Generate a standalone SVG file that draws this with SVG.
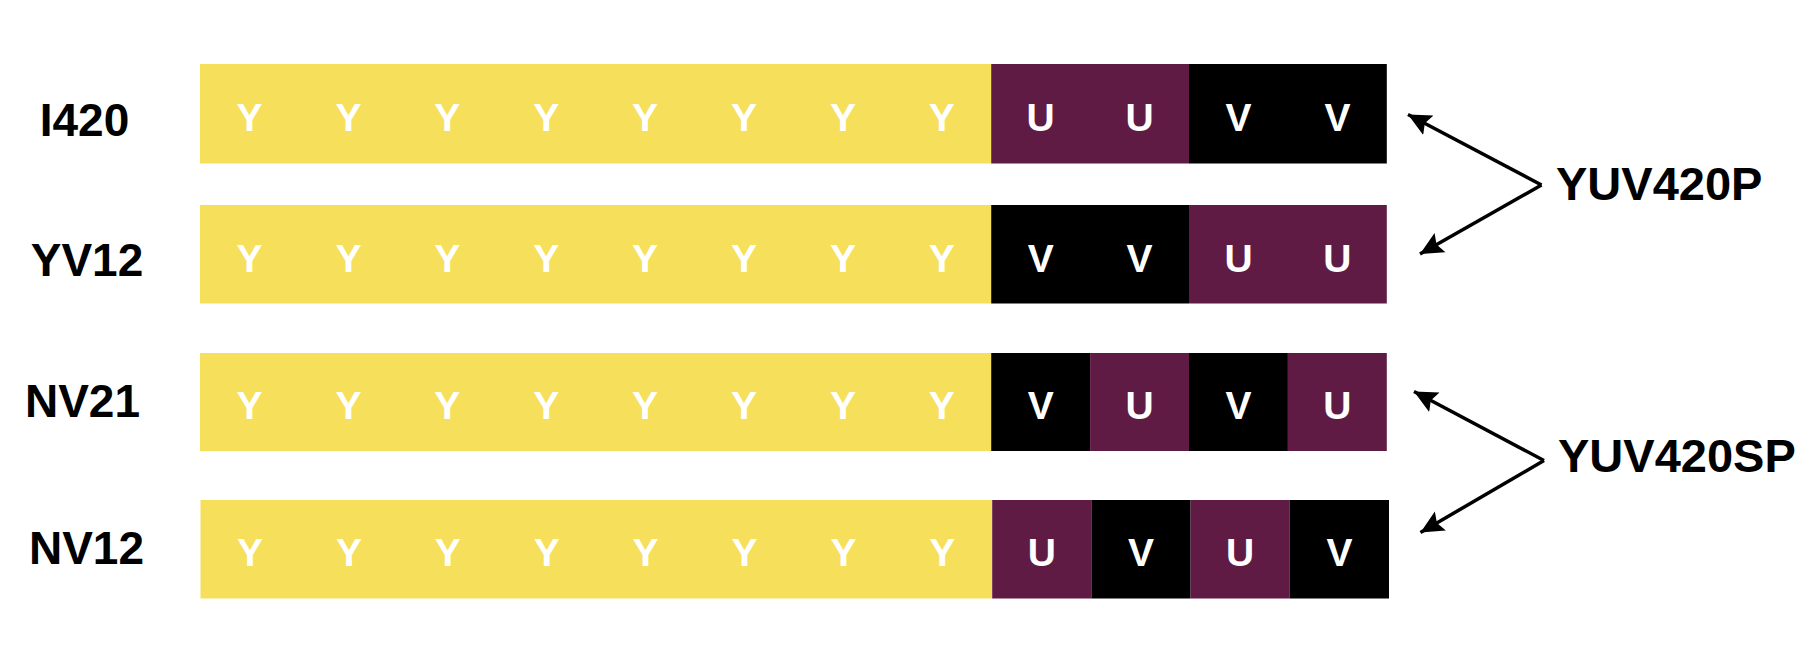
<svg xmlns="http://www.w3.org/2000/svg" width="1814" height="664" viewBox="0 0 1814 664">
  <style>
    .y { fill: #F6E05B; }
    .u { fill: #601B45; }
    .v { fill: #000000; }
    .cell { font-family: "Liberation Sans", Arial, sans-serif; font-weight: bold; font-size: 39px; fill: #ffffff; text-anchor: middle; }
    .lbl { font-family: "Liberation Sans", Arial, sans-serif; font-weight: bold; font-size: 46px; fill: #000000; text-anchor: middle; }
    .grp { font-family: "Liberation Sans", Arial, sans-serif; font-weight: bold; font-size: 47px; fill: #000000; }
    .conn { stroke: #000; stroke-width: 3.5; fill: none; }
  </style>
  <defs>
    <marker id="ah" markerUnits="userSpaceOnUse" markerWidth="26" markerHeight="26" viewBox="0 0 26 26" refX="23" refY="13" orient="auto">
      <path d="M0,2 L23,13 L0,24 L4,13 Z" fill="#000"/>
    </marker>
  </defs>
  <rect width="1814" height="664" fill="#ffffff"/>

  <!-- Row 1: I420 -->
  <g id="row-I420">
    <text class="lbl" x="84.5" y="136">I420</text>
    <rect class="y" x="200" y="64" width="791.2" height="99.5"/>
    <rect class="u" x="991.2" y="64" width="197.8" height="99.5"/>
    <rect class="v" x="1189" y="64" width="197.8" height="99.5"/>
    <g class="cell">
      <text x="249.5" y="131">Y</text><text x="348.4" y="131">Y</text><text x="447.3" y="131">Y</text><text x="546.2" y="131">Y</text>
      <text x="645.1" y="131">Y</text><text x="744" y="131">Y</text><text x="842.9" y="131">Y</text><text x="941.8" y="131">Y</text>
      <text x="1040.7" y="131">U</text><text x="1139.6" y="131">U</text><text x="1238.5" y="131">V</text><text x="1337.4" y="131">V</text>
    </g>
  </g>

  <!-- Row 2: YV12 -->
  <g id="row-YV12">
    <text class="lbl" x="87" y="276">YV12</text>
    <rect class="y" x="200" y="205" width="791.2" height="98.5"/>
    <rect class="v" x="991.2" y="205" width="197.8" height="98.5"/>
    <rect class="u" x="1189" y="205" width="197.8" height="98.5"/>
    <g class="cell">
      <text x="249.5" y="272">Y</text><text x="348.4" y="272">Y</text><text x="447.3" y="272">Y</text><text x="546.2" y="272">Y</text>
      <text x="645.1" y="272">Y</text><text x="744" y="272">Y</text><text x="842.9" y="272">Y</text><text x="941.8" y="272">Y</text>
      <text x="1040.7" y="272">V</text><text x="1139.6" y="272">V</text><text x="1238.5" y="272">U</text><text x="1337.4" y="272">U</text>
    </g>
  </g>

  <!-- Row 3: NV21 -->
  <g id="row-NV21">
    <text class="lbl" x="82.5" y="417">NV21</text>
    <rect class="y" x="200" y="353" width="791.2" height="98"/>
    <rect class="v" x="991.2" y="353" width="98.9" height="98"/>
    <rect class="u" x="1090.1" y="353" width="98.9" height="98"/>
    <rect class="v" x="1189" y="353" width="98.9" height="98"/>
    <rect class="u" x="1287.9" y="353" width="98.9" height="98"/>
    <g class="cell">
      <text x="249.5" y="419">Y</text><text x="348.4" y="419">Y</text><text x="447.3" y="419">Y</text><text x="546.2" y="419">Y</text>
      <text x="645.1" y="419">Y</text><text x="744" y="419">Y</text><text x="842.9" y="419">Y</text><text x="941.8" y="419">Y</text>
      <text x="1040.7" y="419">V</text><text x="1139.6" y="419">U</text><text x="1238.5" y="419">V</text><text x="1337.4" y="419">U</text>
    </g>
  </g>

  <!-- Row 4: NV12 -->
  <g id="row-NV12">
    <text class="lbl" x="86.5" y="563.5">NV12</text>
    <rect class="y" x="200.5" y="500" width="791.7" height="98.5"/>
    <rect class="u" x="992.2" y="500" width="99.2" height="98.5"/>
    <rect class="v" x="1091.4" y="500" width="99.2" height="98.5"/>
    <rect class="u" x="1190.6" y="500" width="99.2" height="98.5"/>
    <rect class="v" x="1289.8" y="500" width="99.2" height="98.5"/>
    <g class="cell">
      <text x="250" y="566">Y</text><text x="348.9" y="566">Y</text><text x="447.8" y="566">Y</text><text x="546.7" y="566">Y</text>
      <text x="645.6" y="566">Y</text><text x="744.5" y="566">Y</text><text x="843.4" y="566">Y</text><text x="942.3" y="566">Y</text>
      <text x="1041.8" y="566">U</text><text x="1141" y="566">V</text><text x="1240.2" y="566">U</text><text x="1339.4" y="566">V</text>
    </g>
  </g>

  <!-- Group labels -->
  <g id="label-YUV420P">
    <text class="grp" x="1556" y="200">YUV420P</text>
  </g>
  <g id="label-YUV420SP">
    <text class="grp" x="1558" y="472">YUV420SP</text>
  </g>

  <!-- Connectors -->
  <g id="connectors" class="conn">
    <line x1="1541.5" y1="185" x2="1408" y2="114.5" marker-end="url(#ah)"/>
    <line x1="1541.5" y1="185" x2="1420" y2="254" marker-end="url(#ah)"/>
    <line x1="1544" y1="460.5" x2="1414" y2="391.5" marker-end="url(#ah)"/>
    <line x1="1544" y1="460.5" x2="1420.5" y2="532.5" marker-end="url(#ah)"/>
  </g>
</svg>
